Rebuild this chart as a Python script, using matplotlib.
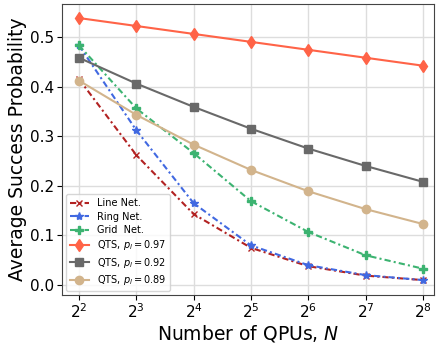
import numpy as np
from matplotlib import pyplot as plt

n_qpus = [4, 8, 16, 32, 64, 128, 256]
line_net = [0.415, 0.262, 0.143, 0.075, 0.038, 0.019, 0.010]
ring_net = [0.483, 0.312, 0.165, 0.080, 0.040, 0.020, 0.010]
grid_net = [0.483, 0.356, 0.266, 0.169, 0.107, 0.060, 0.033]
qts_097 = [0.538, 0.522, 0.506, 0.490, 0.474, 0.458, 0.442]
qts_092 = [0.458, 0.406, 0.359, 0.315, 0.275, 0.240, 0.208]
qts_089 = [0.412, 0.343, 0.283, 0.232, 0.189, 0.153, 0.123]

fig, ax = plt.subplots(figsize=(4.41, 3.45), dpi=100)

dashdot = (0, (3, 1.5, 1, 1.5))
ax.plot(n_qpus, line_net, color='#b22222', linestyle=dashdot, marker='x', markersize=5, lw=1.5, label='Line Net.')
ax.plot(n_qpus, ring_net, color='#4169e1', linestyle=dashdot, marker='*', markersize=6, lw=1.5, label='Ring Net.')
ax.plot(n_qpus, grid_net, color='#3cb371', linestyle=dashdot, marker='P', markersize=6, lw=1.5, label='Grid  Net.')
ax.plot(n_qpus, qts_097, color='#ff6347', marker='d', markersize=6, lw=1.5, label=r'QTS, $p_l=0.97$')
ax.plot(n_qpus, qts_092, color='#696969', marker='s', markersize=6, lw=1.5, label=r'QTS, $p_l=0.92$')
ax.plot(n_qpus, qts_089, color='#d2b48c', marker='o', markersize=6, lw=1.5, label=r'QTS, $p_l=0.89$')

ax.set_xscale('log', base=2)
ax.set_xticks(n_qpus)
ax.set_xticklabels([r'$2^{%d}$' % k for k in range(2, 9)])
ax.minorticks_off()
ax.set_xlim(2 ** 1.7, 2 ** 8.2)
ax.set_ylim(-0.02, 0.566)
ax.tick_params(labelsize=11, pad=2)
ax.grid(True, color='#dddddd', lw=1)
for s in ax.spines.values():
    s.set_color('#444444')
ax.set_xlabel('Number of QPUs, $N$', fontsize=13.5, labelpad=1)
ax.set_ylabel('Average Success Probability', fontsize=13.5, labelpad=2)
ax.legend(loc='lower left', fontsize=7, framealpha=0.8, handlelength=2.0,
          labelspacing=0.35, borderaxespad=0.4)

plt.subplots_adjust(left=0.14, right=0.985, top=0.988, bottom=0.145)
plt.savefig('out.png')
